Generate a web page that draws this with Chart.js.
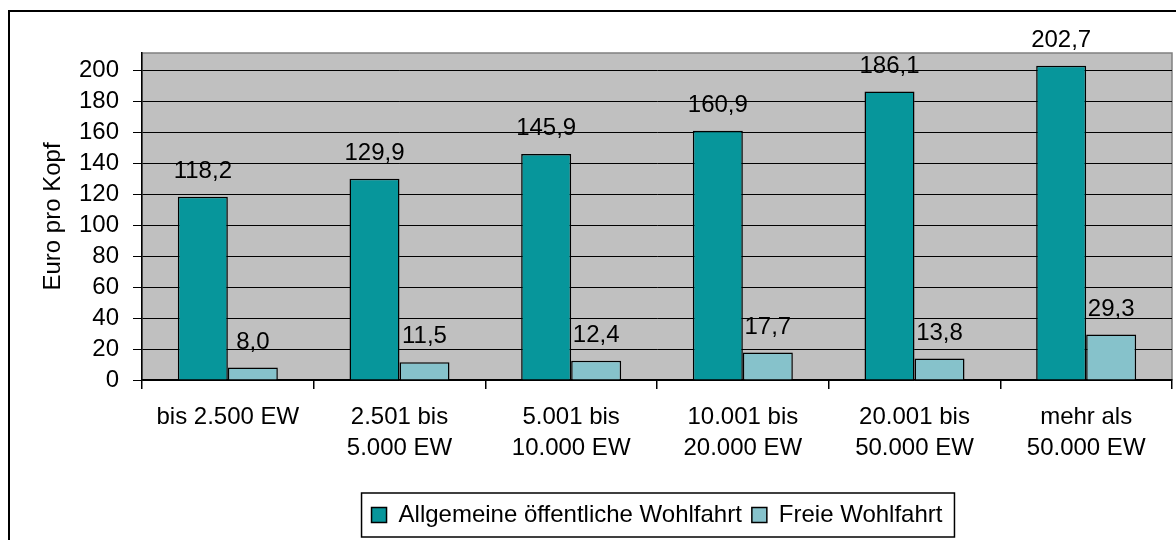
<!DOCTYPE html>
<html>
<head>
<meta charset="utf-8">
<script src="https://cdn.jsdelivr.net/npm/chart.js@4"></script>
<style>
html, body { margin: 0; padding: 0; background: #fff; }
#wrap { width: 1176px; height: 540px; }
</style>
</head>
<body>
<div id="wrap"><canvas id="chart" width="1176" height="540"></canvas></div>
<script>
var categories = [
    'bis 2.500 EW',
    ['2.501 bis', '5.000 EW'],
    ['5.001 bis', '10.000 EW'],
    ['10.001 bis', '20.000 EW'],
    ['20.001 bis', '50.000 EW'],
    ['mehr als', '50.000 EW']
];
var allgemeine = [118.2, 129.9, 145.9, 160.9, 186.1, 202.7];
var freie = [8.0, 11.5, 12.4, 17.7, 13.8, 29.3];
var yTicks = [0, 20, 40, 60, 80, 100, 120, 140, 160, 180, 200];

var FONT = '"Liberation Sans", Arial, sans-serif';
var FSIZE = 24;
Chart.defaults.font.family = FONT;
Chart.defaults.color = '#000';

// grey plot area, outer frame, legend box
var frame = {
    id: 'frame',
    beforeDraw: function(chart) {
        var a = chart.chartArea, ctx = chart.ctx;
        ctx.save();
        ctx.fillStyle = '#fff';
        ctx.fillRect(0, 0, chart.width, chart.height);
        ctx.fillStyle = '#C0C0C0';
        ctx.fillRect(a.left, a.top, a.right - a.left, a.bottom - a.top);
        ctx.strokeStyle = '#808080';
        ctx.lineWidth = 1.5;
        ctx.strokeRect(a.left, a.top, a.right - a.left, a.bottom - a.top);
        ctx.strokeStyle = '#000';
        ctx.lineWidth = 2;
        ctx.strokeRect(9, 11, chart.width + 20, chart.height + 20);
        ctx.restore();
    },
    afterDraw: function(chart) {
        var boxes = chart.legend.legendHitBoxes;
        if (!boxes || !boxes.length) return;
        var l = Math.min.apply(null, boxes.map(function(b) { return b.left; })) - 10;
        var r = Math.max.apply(null, boxes.map(function(b) { return b.left + b.width; })) + 12;
        var t = Math.min.apply(null, boxes.map(function(b) { return b.top; })) - 10;
        var btm = Math.max.apply(null, boxes.map(function(b) { return b.top + b.height; })) + 10;
        var ctx = chart.ctx;
        ctx.save();
        ctx.strokeStyle = '#000';
        ctx.lineWidth = 1.5;
        ctx.strokeRect(l, t, r - l, btm - t);
        ctx.restore();
    }
};

// values above the bars
var valueLabels = {
    id: 'valueLabels',
    afterDatasetsDraw: function(chart) {
        var ctx = chart.ctx;
        ctx.save();
        ctx.font = FSIZE + 'px ' + FONT;
        ctx.fillStyle = '#000';
        ctx.textAlign = 'center';
        ctx.textBaseline = 'alphabetic';
        chart.data.datasets.forEach(function(ds, i) {
            chart.getDatasetMeta(i).data.forEach(function(bar, j) {
                ctx.fillText(ds.data[j].toFixed(1).replace('.', ','), bar.x, bar.y - 19);
            });
        });
        ctx.restore();
    }
};

var ctx = document.getElementById('chart').getContext('2d');
var myChart = new Chart(ctx, {
    type: 'bar',
    data: {
        labels: categories,
        datasets: [{
            label: 'Allgemeine öffentliche Wohlfahrt',
            data: allgemeine,
            backgroundColor: '#07969B',
            borderColor: '#000',
            borderWidth: 1.5,
            categoryPercentage: 0.5825,
            barPercentage: 1
        },
        {
            label: 'Freie Wohlfahrt',
            data: freie,
            backgroundColor: '#86C2CB',
            borderColor: '#000',
            borderWidth: 1.5,
            categoryPercentage: 0.5825,
            barPercentage: 1
        }]
    },
    options: {
        responsive: false,
        devicePixelRatio: 1,
        animation: false,
        events: [],
        layout: {
            padding: {top: 53, right: 4, bottom: 3, left: 0}
        },
        plugins: {
            tooltip: {enabled: false},
            legend: {
                position: 'bottom',
                fullSize: false,
                labels: {
                    boxWidth: 15,
                    boxHeight: 15,
                    padding: 10,
                    font: {size: FSIZE}
                }
            }
        },
        scales: {
            x: {
                grid: {
                    drawOnChartArea: false,
                    drawTicks: true,
                    tickLength: 9,
                    color: '#000',
                    lineWidth: 1.5
                },
                border: {color: '#000', width: 1.5},
                ticks: {
                    padding: 13,
                    maxRotation: 0,
                    autoSkip: false,
                    font: {size: FSIZE, lineHeight: 1.29}
                },
                afterFit: function(scale) { scale.height = 113; }
            },
            y: {
                min: 0,
                max: 211,
                ticks: {
                    stepSize: 20,
                    padding: 14,
                    font: {size: FSIZE}
                },
                afterBuildTicks: function(scale) {
                    scale.ticks = yTicks.map(function(v) { return {value: v}; });
                },
                grid: {
                    color: '#000',
                    lineWidth: 1,
                    tickLength: 9
                },
                border: {color: '#000', width: 1.5},
                title: {
                    display: true,
                    text: 'Euro pro Kopf',
                    font: {size: FSIZE},
                    padding: {top: 39, bottom: 0}
                },
                afterFit: function(scale) { scale.width = 142; }
            }
        }
    },
    plugins: [frame, valueLabels]
});
</script>
</body>
</html>
